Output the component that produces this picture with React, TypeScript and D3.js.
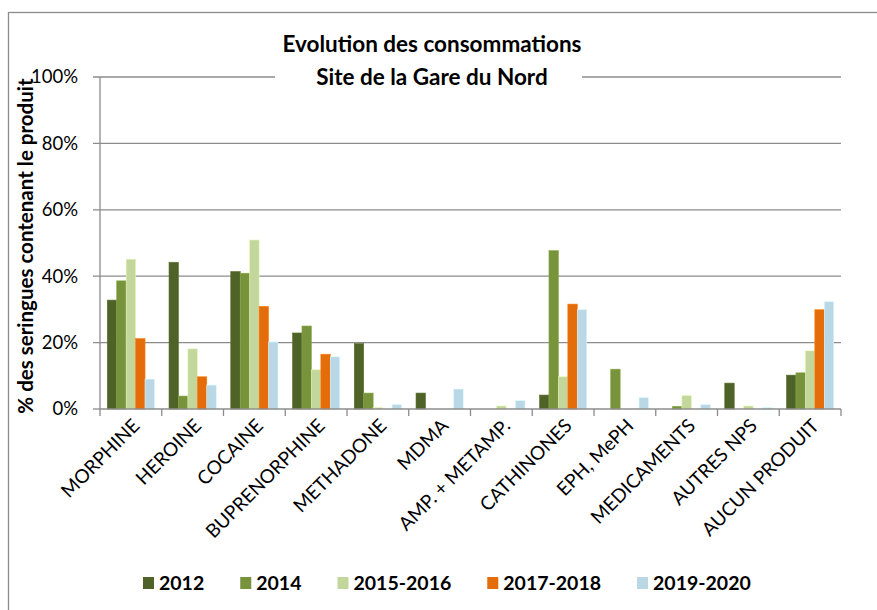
import React, { useEffect, useRef } from "react";
import * as d3 from "d3";

const categories = [
  "MORPHINE",
  "HEROINE",
  "COCAINE",
  "BUPRENORPHINE",
  "METHADONE",
  "MDMA",
  "AMP. + METAMP.",
  "CATHINONES",
  "EPH, MePH",
  "MEDICAMENTS",
  "AUTRES NPS",
  "AUCUN PRODUIT",
];

const seriesNames = ["2012", "2014", "2015-2016", "2017-2018", "2019-2020"];

const values2012 = [32.8, 44.2, 41.4, 22.9, 19.7, 4.8, 0, 4.2, 0, 0, 7.8, 10.2];
const values2014 = [38.6, 3.9, 40.9, 25.0, 4.8, 0, 0, 47.7, 12.0, 0.8, 0, 10.9];
const values2015 = [45.1, 18.1, 50.9, 11.8, 0.4, 0, 0.9, 9.7, 0, 4.0, 0.9, 17.5];
const values2017 = [21.2, 9.7, 30.9, 16.5, 0, 0, 0, 31.6, 0, 0, 0, 29.9];
const values2019 = [9.0, 7.2, 20.2, 15.7, 1.3, 6.0, 2.5, 29.9, 3.4, 1.3, 0.4, 32.3];

const seriesValues = [values2012, values2014, values2015, values2017, values2019];
const seriesColors = ["#4F6228", "#77933C", "#C3D69B", "#E46C0A", "#B9D7E4"];

const yTicks = [0, 20, 40, 60, 80, 100];

const titleLines = ["Evolution des consommations", "Site de la Gare du Nord"];
const yAxisTitle = "% des seringues contenant le produit";

const FONT = "Lato, 'Open Sans', sans-serif";
const GRID = "#8C8C8C";

export default function App() {
  const ref = useRef<SVGSVGElement | null>(null);

  useEffect(() => {
    const svg = d3.select(ref.current);
    svg.selectAll("*").remove();

    const left = 100;
    const right = 841;
    const top = 77;
    const bottom = 409;

    const x0 = d3.scaleBand<string>().domain(categories).range([left, right]).padding(0);
    const x1 = d3
      .scaleBand<string>()
      .domain(seriesNames)
      .range([0, x0.step()])
      .paddingInner(0)
      .paddingOuter(0.77);
    const y = d3.scaleLinear().domain([0, 100]).range([bottom, top]);

    // frame (top and left edges visible)
    svg
      .append("rect")
      .attr("x", 8.5)
      .attr("y", 12.5)
      .attr("width", 900)
      .attr("height", 700)
      .attr("fill", "#fff")
      .attr("stroke", "#8C8C8C")
      .attr("stroke-width", 1.3);

    // gridlines
    svg
      .append("g")
      .selectAll("line")
      .data(yTicks.filter((t) => t > 0))
      .join("line")
      .attr("x1", left - 7)
      .attr("x2", right)
      .attr("y1", (d) => y(d))
      .attr("y2", (d) => y(d))
      .attr("stroke", GRID)
      .attr("stroke-width", 1.3);

    // y axis line + zero tick
    svg
      .append("line")
      .attr("x1", left)
      .attr("x2", left)
      .attr("y1", top)
      .attr("y2", bottom)
      .attr("stroke", GRID)
      .attr("stroke-width", 1.3);
    svg
      .append("line")
      .attr("x1", left - 7)
      .attr("x2", left)
      .attr("y1", bottom)
      .attr("y2", bottom)
      .attr("stroke", GRID)
      .attr("stroke-width", 1.3);

    // y tick labels
    svg
      .append("g")
      .selectAll("text")
      .data(yTicks)
      .join("text")
      .attr("x", left - 22)
      .attr("y", (d) => y(d))
      .attr("dy", "0.35em")
      .attr("text-anchor", "end")
      .attr("font-family", FONT)
      .attr("font-size", 18.5)
      .attr("fill", "#000")
      .text((d) => `${d}%`);

    // bars
    const gBars = svg.append("g");
    seriesNames.forEach((s, si) => {
      gBars
        .append("g")
        .selectAll("rect")
        .data(seriesValues[si])
        .join("rect")
        .attr("x", (_d, i) => (x0(categories[i]) as number) + (x1(s) as number))
        .attr("width", x1.bandwidth())
        .attr("y", (d) => y(d))
        .attr("height", (d) => bottom - y(d))
        .attr("fill", seriesColors[si])
        .attr("stroke", d3.color(seriesColors[si])!.brighter(0.4).toString())
        .attr("stroke-width", 0.6);
    });

    // x axis
    svg
      .append("line")
      .attr("x1", left)
      .attr("x2", right)
      .attr("y1", bottom)
      .attr("y2", bottom)
      .attr("stroke", GRID)
      .attr("stroke-width", 1.3);
    const tickXs = categories.map((c) => x0(c) as number).concat([right]);
    svg
      .append("g")
      .selectAll("line")
      .data(tickXs)
      .join("line")
      .attr("x1", (d) => d)
      .attr("x2", (d) => d)
      .attr("y1", bottom)
      .attr("y2", bottom + 7)
      .attr("stroke", GRID)
      .attr("stroke-width", 1.3);

    // x labels
    svg
      .append("g")
      .selectAll("text")
      .data(categories)
      .join("text")
      .attr(
        "transform",
        (d) => `translate(${(x0(d) as number) + x0.step() / 2 + 10},${bottom + 18}) rotate(-45)`
      )
      .attr("text-anchor", "end")
      .attr("font-family", FONT)
      .attr("font-size", 19)
      .attr("fill", "#000")
      .text((d) => d);

    // title
    svg
      .append("rect")
      .attr("x", 275)
      .attr("y", 24)
      .attr("width", 307)
      .attr("height", 72)
      .attr("fill", "#fff");
    svg
      .append("g")
      .selectAll("text")
      .data(titleLines)
      .join("text")
      .attr("x", 432)
      .attr("y", (_d, i) => 52 + i * 33)
      .attr("text-anchor", "middle")
      .attr("font-family", FONT)
      .attr("font-weight", "bold")
      .attr("font-size", 22.5)
      .attr("fill", "#000")
      .text((d) => d);

    // y axis title
    svg
      .append("text")
      .attr("transform", `translate(33,246) rotate(-90)`)
      .attr("text-anchor", "middle")
      .attr("font-family", FONT)
      .attr("font-weight", "bold")
      .attr("font-size", 20.5)
      .attr("fill", "#000")
      .text(yAxisTitle);

    // legend
    const legend = svg.append("g");
    let lx = 143;
    const ly = 583;
    seriesNames.forEach((s, si) => {
      legend
        .append("rect")
        .attr("x", lx)
        .attr("y", ly - 6)
        .attr("width", 11)
        .attr("height", 12)
        .attr("fill", seriesColors[si]);
      const t = legend
        .append("text")
        .attr("x", lx + 16)
        .attr("y", ly)
        .attr("dy", "0.36em")
        .attr("font-family", FONT)
        .attr("font-weight", "bold")
        .attr("font-size", 19.5)
        .attr("fill", "#000")
        .text(s);
      const w = (t.node() as SVGTextElement).getComputedTextLength();
      lx = lx + 16 + w + 36;
    });
  }, []);

  return (
    <svg
      ref={ref}
      width={877}
      height={610}
      style={{ position: "absolute", left: 0, top: 0, background: "#fff" }}
    />
  );
}
